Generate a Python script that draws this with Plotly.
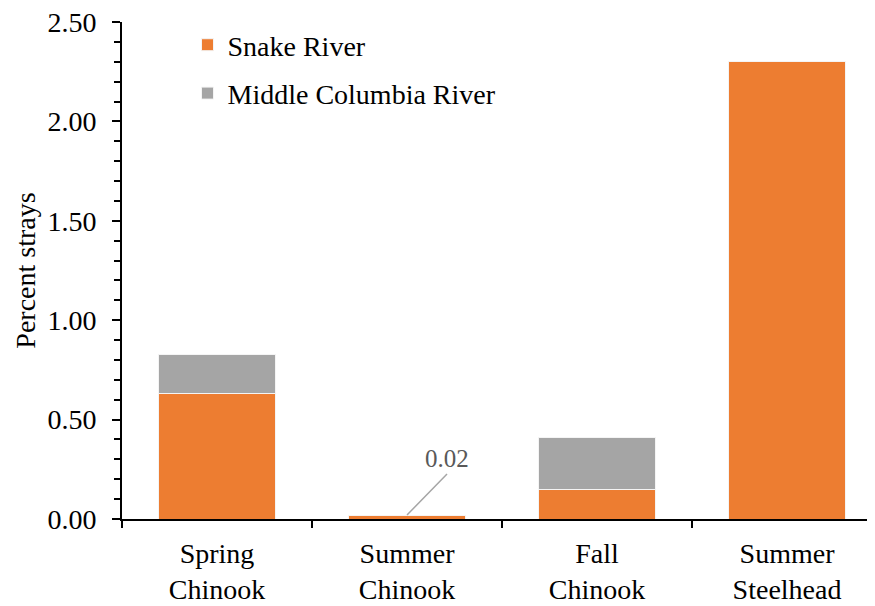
import plotly.graph_objects as go

categories = ["Spring<br>Chinook", "Summer<br>Chinook", "Fall<br>Chinook", "Summer<br>Steelhead"]
snake_river = [0.63, 0.02, 0.15, 2.30]
middle_columbia = [0.20, 0.0, 0.26, 0.0]
y_ticks = [0, 0.5, 1.0, 1.5, 2.0, 2.5]

ORANGE = "#ED7D31"
GRAY = "#A5A5A5"
FONT = "Times New Roman"

fig = go.Figure()
fig.add_trace(go.Bar(x=categories, y=snake_river, name="Snake River",
                     marker=dict(color=ORANGE, line=dict(color="#f4f4f4", width=1)),
                     legendgroup="a"))
fig.add_trace(go.Bar(x=categories, y=middle_columbia, name="Middle Columbia River",
                     marker=dict(color=GRAY, line=dict(color="#f4f4f4", width=1)),
                     legendgroup="b"))

# leader label for the tiny Summer Chinook bar
fig.add_annotation(x=categories[1], y=snake_river[1], text="0.02",
                   showarrow=True, arrowhead=0, arrowwidth=1.5, arrowcolor="#A6A6A6",
                   ax=40, ay=-41, yanchor="bottom",
                   font=dict(family=FONT, size=25, color="#595959"))

# the page body has an 8px margin, so the figure is sized to fit inside the window
fig.update_layout(
    barmode="stack",
    bargap=0.38,
    width=867, height=598,
    margin=dict(l=114, r=0, t=14, b=87),
    plot_bgcolor="white", paper_bgcolor="white",
    font=dict(family=FONT, size=28, color="black"),
    showlegend=True,
    legend=dict(x=0.087, y=1.004, xanchor="left", yanchor="top",
                traceorder="grouped", tracegroupgap=9,
                font=dict(size=28), bgcolor="rgba(0,0,0,0)",
                itemwidth=30),
)
fig.update_xaxes(range=[-0.5, 3.463], showline=True, linecolor="black", linewidth=2,
                 ticks="outside", tickson="boundaries", ticklen=7, tickwidth=2,
                 tickcolor="black", showgrid=False, zeroline=False, automargin=False,
                 ticklabelstandoff=8, ticklabeloverflow="allow")
fig.update_yaxes(range=[0, 2.5], tickvals=y_ticks, tickformat=".2f",
                 showline=True, linecolor="black", linewidth=2,
                 ticks="outside", ticklen=8, tickwidth=2, tickcolor="black",
                 minor=dict(ticks="outside", dtick=0.1, ticklen=6, tickwidth=1.5,
                            tickcolor="black", showgrid=False),
                 showgrid=False, zeroline=False, automargin=False,
                 ticklabelstandoff=10, ticklabeloverflow="allow",
                 title=dict(text="Percent strays", font=dict(size=28), standoff=4))

fig.write_html("out.html")
